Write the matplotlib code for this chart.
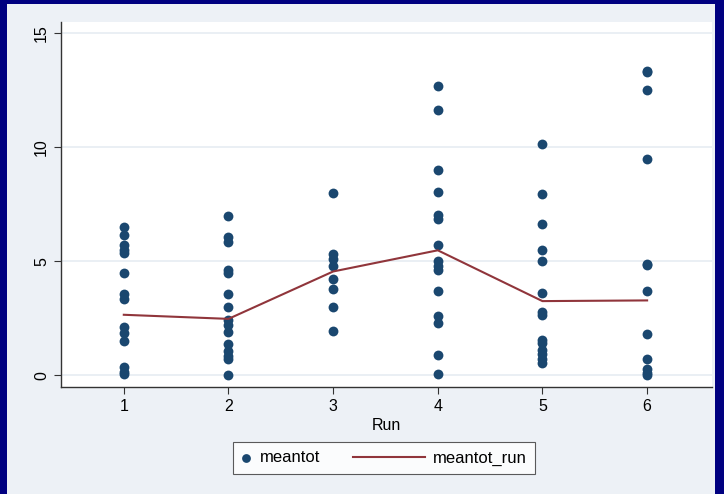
import numpy as np
import matplotlib.pyplot as plt
from matplotlib.patches import Rectangle
from matplotlib.lines import Line2D
from matplotlib.legend_handler import HandlerLine2D

plt.rcParams['font.family'] = ['Liberation Sans', 'DejaVu Sans']

# meantot values for each run
run1 = [6.5, 6.15, 5.7, 5.5, 5.35, 4.5, 3.55, 3.35, 2.1, 1.85, 1.5, 0.35, 0.15, 0.05]
run2 = [7.0, 6.05, 5.85, 4.6, 4.5, 3.55, 3.0, 2.4, 2.2, 1.9, 1.35, 1.05, 0.85, 0.7, 0.0]
run3 = [8.0, 5.3, 5.1, 4.8, 4.2, 3.8, 3.0, 1.95]
run4 = [12.7, 11.65, 9.0, 8.05, 7.05, 6.85, 5.7, 5.0, 4.8, 4.6, 3.7, 2.6, 2.3, 0.9, 0.05]
run5 = [10.15, 7.95, 6.65, 5.5, 5.0, 3.6, 2.75, 2.65, 1.55, 1.4, 1.1, 0.95, 0.7, 0.55]
run6 = [13.35, 13.3, 12.5, 9.5, 4.9, 4.85, 3.7, 1.8, 0.7, 0.25, 0.1, 0.0]
runs = [1, 2, 3, 4, 5, 6]
meantot_run = [2.65, 2.47, 4.55, 5.48, 3.25, 3.28]

navy = '#1a476f'
maroon = '#90353b'
bg = '#edf1f6'


# legend line handle that reaches back into the column gap (Stata style)
class LongLine(HandlerLine2D):
    def create_artists(self, legend, orig_handle, xdescent, ydescent,
                       width, height, fontsize, trans):
        y = height / 2 - ydescent
        l = Line2D([-xdescent - 44, -xdescent + width], [y, y],
                   color=orig_handle.get_color(), lw=orig_handle.get_linewidth())
        l.set_transform(trans)
        return [l]


fig = plt.figure(figsize=(7.24, 4.94), dpi=100)
fig.patch.set_facecolor('#000080')
fig.patches.append(Rectangle((7/724, 0), 708/724, 490/494, transform=fig.transFigure,
                             facecolor=bg, edgecolor='none', zorder=-5))

ax = fig.add_axes([61/724, 107/494, 651/724, 365/494])
ax.set_facecolor('white')

allrun = [run1, run2, run3, run4, run5, run6]
for r, vals in zip(runs, allrun):
    ax.scatter([r]*len(vals), vals, s=50, color=navy, zorder=3, linewidths=0)
sc = ax.scatter([], [], s=50, color=navy, linewidths=0, label='meantot')
ln, = ax.plot(runs, meantot_run, color=maroon, lw=1.5, zorder=4, label='meantot_run')

ax.set_xlim(0.4, 6.62)
ax.set_ylim(-0.52, 15.5)
ax.set_xticks(runs)
ax.set_yticks([0, 5, 10, 15])
ax.grid(axis='y', color='#e6ecf2', lw=1.2)
ax.set_axisbelow(True)
for s in ['top', 'right']:
    ax.spines[s].set_visible(False)
for s in ['left', 'bottom']:
    ax.spines[s].set_color('#333333')
    ax.spines[s].set_linewidth(1)
ax.tick_params(colors='#333333', labelcolor='black', length=5, labelsize=11.5)
plt.setp(ax.get_yticklabels(), rotation=90, va='center')
ax.set_xlabel('Run', fontsize=11.5, labelpad=3)

leg = fig.legend(handles=[sc, ln], loc='center', bbox_to_anchor=(384/724, 1 - 458/494),
                 ncol=2, fontsize=12, frameon=True, fancybox=False, edgecolor='#333333',
                 columnspacing=5.67, handlelength=0.6, handletextpad=0.5, borderpad=0.5,
                 handler_map={Line2D: LongLine()})
leg.get_frame().set_linewidth(0.8)
leg.legend_handles[0].set_sizes([40])

fig.savefig('out.png', dpi=100, facecolor=fig.get_facecolor())
